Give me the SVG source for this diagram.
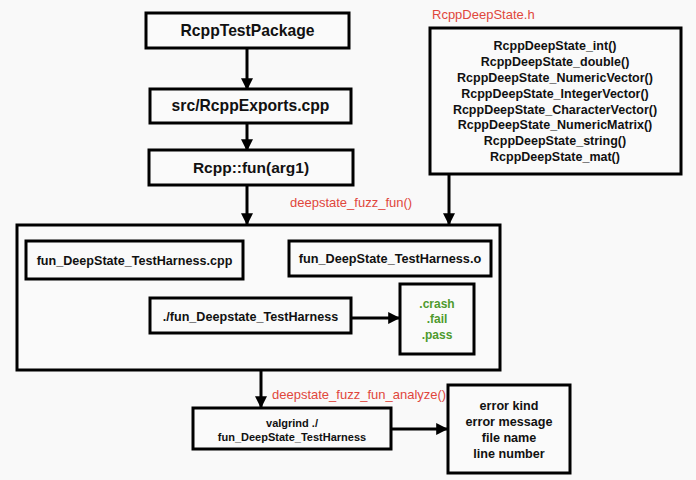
<svg xmlns="http://www.w3.org/2000/svg" width="696" height="480" viewBox="0 0 696 480">
<defs>
<marker id="ah" viewBox="0 0 10 10" refX="9" refY="5" markerWidth="4" markerHeight="4" orient="auto" markerUnits="strokeWidth">
<path d="M0,0 L10,5 L0,10 Z" fill="#000"/>
</marker>
<style>
.box{fill:#fafafa;stroke:#000;stroke-width:3}
.t{font-family:"Liberation Sans",Arial,sans-serif;font-weight:bold;fill:#111;text-anchor:middle}
.red{font-family:"Liberation Sans",Arial,sans-serif;fill:#e0473c;font-size:13px}
.green{font-family:"Liberation Sans",Arial,sans-serif;font-weight:bold;fill:#4e9a2e;font-size:12px;text-anchor:middle}
.c{stroke:#000;stroke-width:3;fill:none;marker-end:url(#ah)}
</style>
</defs>
<rect width="696" height="480" fill="#f9f9f9"/>
<g id="n_pkg">
<rect class="box" x="146" y="13" width="203" height="35"/>
<text class="t" x="247.5" y="36" font-size="15.7">RcppTestPackage</text>
</g>
<g id="n_exports">
<rect class="box" x="150" y="89" width="201" height="34"/>
<text class="t" x="250.5" y="111" font-size="15.7">src/RcppExports.cpp</text>
</g>
<g id="n_fun">
<rect class="box" x="149" y="150" width="204" height="35"/>
<text class="t" x="251" y="173" font-size="15.5">Rcpp::fun(arg1)</text>
</g>
<g id="n_header">
<text class="red" x="432" y="19" font-size="12.7">RcppDeepState.h</text>
<rect class="box" x="430" y="28" width="251" height="146"/>
<g class="t" font-size="12.5">
<text x="555" y="49.5">RcppDeepState_int()</text>
<text x="555" y="66">RcppDeepState_double()</text>
<text x="555" y="82">RcppDeepState_NumericVector()</text>
<text x="555" y="98">RcppDeepState_IntegerVector()</text>
<text x="555" y="113.5">RcppDeepState_CharacterVector()</text>
<text x="555" y="129">RcppDeepState_NumericMatrix()</text>
<text x="555" y="145">RcppDeepState_string()</text>
<text x="555" y="160.5">RcppDeepState_mat()</text>
</g>
</g>
<g id="n_fuzz">
<text class="red" x="290" y="207">deepstate_fuzz_fun()</text>
<rect class="box" x="17" y="225" width="483" height="145"/>
</g>
<g id="n_cpp">
<rect class="box" x="26" y="241" width="217" height="38"/>
<text class="t" x="134.5" y="264.5" font-size="12.6">fun_DeepState_TestHarness.cpp</text>
</g>
<g id="n_o">
<rect class="box" x="289" y="241" width="202" height="35"/>
<text class="t" x="390" y="263" font-size="12.7">fun_DeepState_TestHarness.o</text>
</g>
<g id="n_exe">
<rect class="box" x="150" y="298" width="201" height="35"/>
<text class="t" x="250.5" y="320.5" font-size="12.6">./fun_Deepstate_TestHarness</text>
</g>
<g id="n_results">
<rect class="box" x="400" y="284" width="74" height="70"/>
<text class="green" x="437" y="308">.crash</text>
<text class="green" x="437" y="323">.fail</text>
<text class="green" x="437" y="339">.pass</text>
</g>
<g id="n_valgrind">
<text class="red" x="272" y="399">deepstate_fuzz_fun_analyze()</text>
<rect class="box" x="193" y="408" width="198" height="41"/>
<text class="t" x="292" y="427" font-size="11">valgrind ./</text>
<text class="t" x="292" y="441" font-size="11">fun_DeepState_TestHarness</text>
</g>
<g id="n_errors">
<rect class="box" x="448" y="385" width="122" height="88"/>
<g class="t" font-size="12.6">
<text x="509" y="409.5">error kind</text>
<text x="509" y="426">error message</text>
<text x="509" y="442">file name</text>
<text x="509" y="457.5">line number</text>
</g>
</g>
<g id="connectors">
<line class="c" x1="247" y1="48" x2="247" y2="89"/>
<line class="c" x1="247" y1="123" x2="247" y2="150"/>
<line class="c" x1="247" y1="185" x2="247" y2="224"/>
<line class="c" x1="449" y1="174" x2="449" y2="224"/>
<line class="c" x1="351" y1="318" x2="399" y2="318"/>
<line class="c" x1="261" y1="370" x2="261" y2="407"/>
<line class="c" x1="391" y1="429" x2="447" y2="429"/>
</g>
</svg>
